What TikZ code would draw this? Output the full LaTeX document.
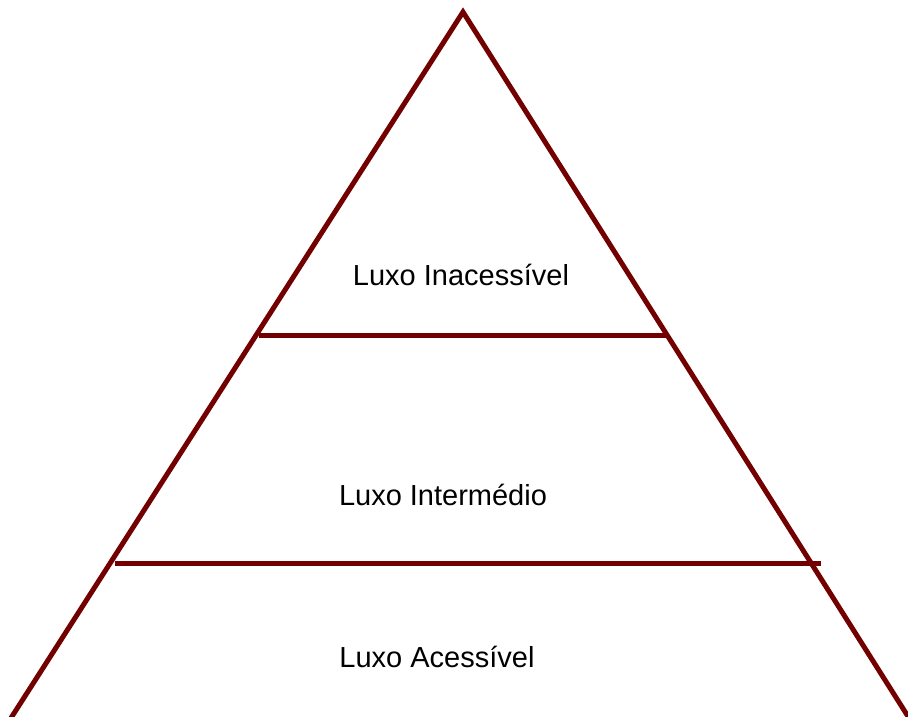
\documentclass[tikz,border=0pt]{standalone}
\usepackage{fontspec}
\setmainfont{Liberation Sans}
\definecolor{pyr}{RGB}{115,0,0}
\begin{document}
\begin{tikzpicture}[x=1pt,y=-1pt,
  edge/.style={draw=pyr,line width=5pt},
  lbl/.style={font=\fontsize{29}{34}\selectfont,text=black,inner sep=0pt}]
\useasboundingbox (0,0) rectangle (908,716);
\clip (0,0) rectangle (908,716);
\coordinate (apex) at (463,12);
\coordinate (bl) at (11,718);
\coordinate (br) at (909,718);
\coordinate (l1a) at (259,335);
\coordinate (l1b) at (668,335);
\coordinate (l2a) at (115,563);
\coordinate (l2b) at (821,563);
\draw[edge,line join=miter] (bl) -- (apex) -- (br);
\draw[edge] (l1a) -- (l1b);
\draw[edge] (l2a) -- (l2b);
\node[lbl] (top) at (461,275) {Luxo Inacessível};
\node[lbl] (mid) at (443,495) {Luxo Intermédio};
\node[lbl] (bot) at (437,657) {Luxo Acessível};
\end{tikzpicture}
\end{document}
